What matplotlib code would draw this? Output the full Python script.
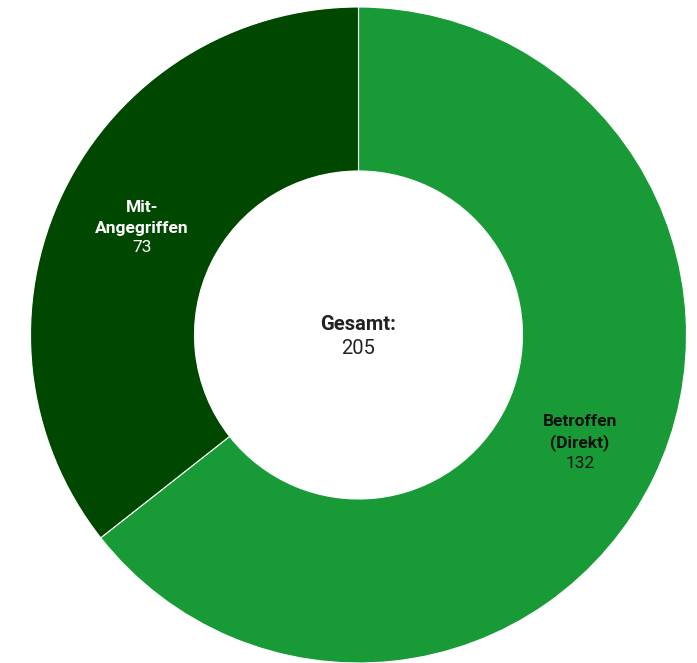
import matplotlib.pyplot as plt

labels = [['Betroffen', '(Direkt)'], ['Mit-', 'Angegriffen']]
values = [132, 73]
colors = ['#189b37', '#004800']
label_colors = ['#111111', '#ffffff']
total = sum(values)

plt.rcParams['font.family'] = ['Roboto', 'DejaVu Sans']

W, H = 697, 663
cx, cy, R = 358.5, 335, 328

fig = plt.figure(figsize=(W / 100, H / 100), dpi=100)
ax = fig.add_axes([0, 0, 1, 1])

wedges, _ = ax.pie(values, colors=colors, startangle=90, counterclock=False,
                   radius=1, wedgeprops=dict(width=0.5, edgecolor='white', linewidth=0.8))
ax.set_xlim(-cx / R, (W - cx) / R)
ax.set_ylim(-(H - cy) / R, cy / R)
ax.set_aspect('auto')
ax.axis('off')


def px(x, y):
    return (x - cx) / R, (cy - y) / R


# label anchor in pixels (x, y of each line)
anchors = [(580, [422, 443, 463]), (142, [208, 229, 248])]
for (x0, ys), lab, v, c in zip(anchors, labels, values, label_colors):
    for line, y0 in zip(lab, ys[:-1]):
        ax.text(*px(x0, y0), line, ha='center', va='center', fontsize=12.5,
                fontweight='bold', color=c)
    ax.text(*px(x0, ys[-1]), str(v), ha='center', va='center', fontsize=12.5, color=c)

ax.text(*px(358, 324), 'Gesamt:', ha='center', va='center', fontsize=14.5,
        fontweight='bold', color='#222222')
ax.text(*px(358, 349), str(total), ha='center', va='center', fontsize=14.5, color='#222222')

fig.savefig('out.png', dpi=100)
